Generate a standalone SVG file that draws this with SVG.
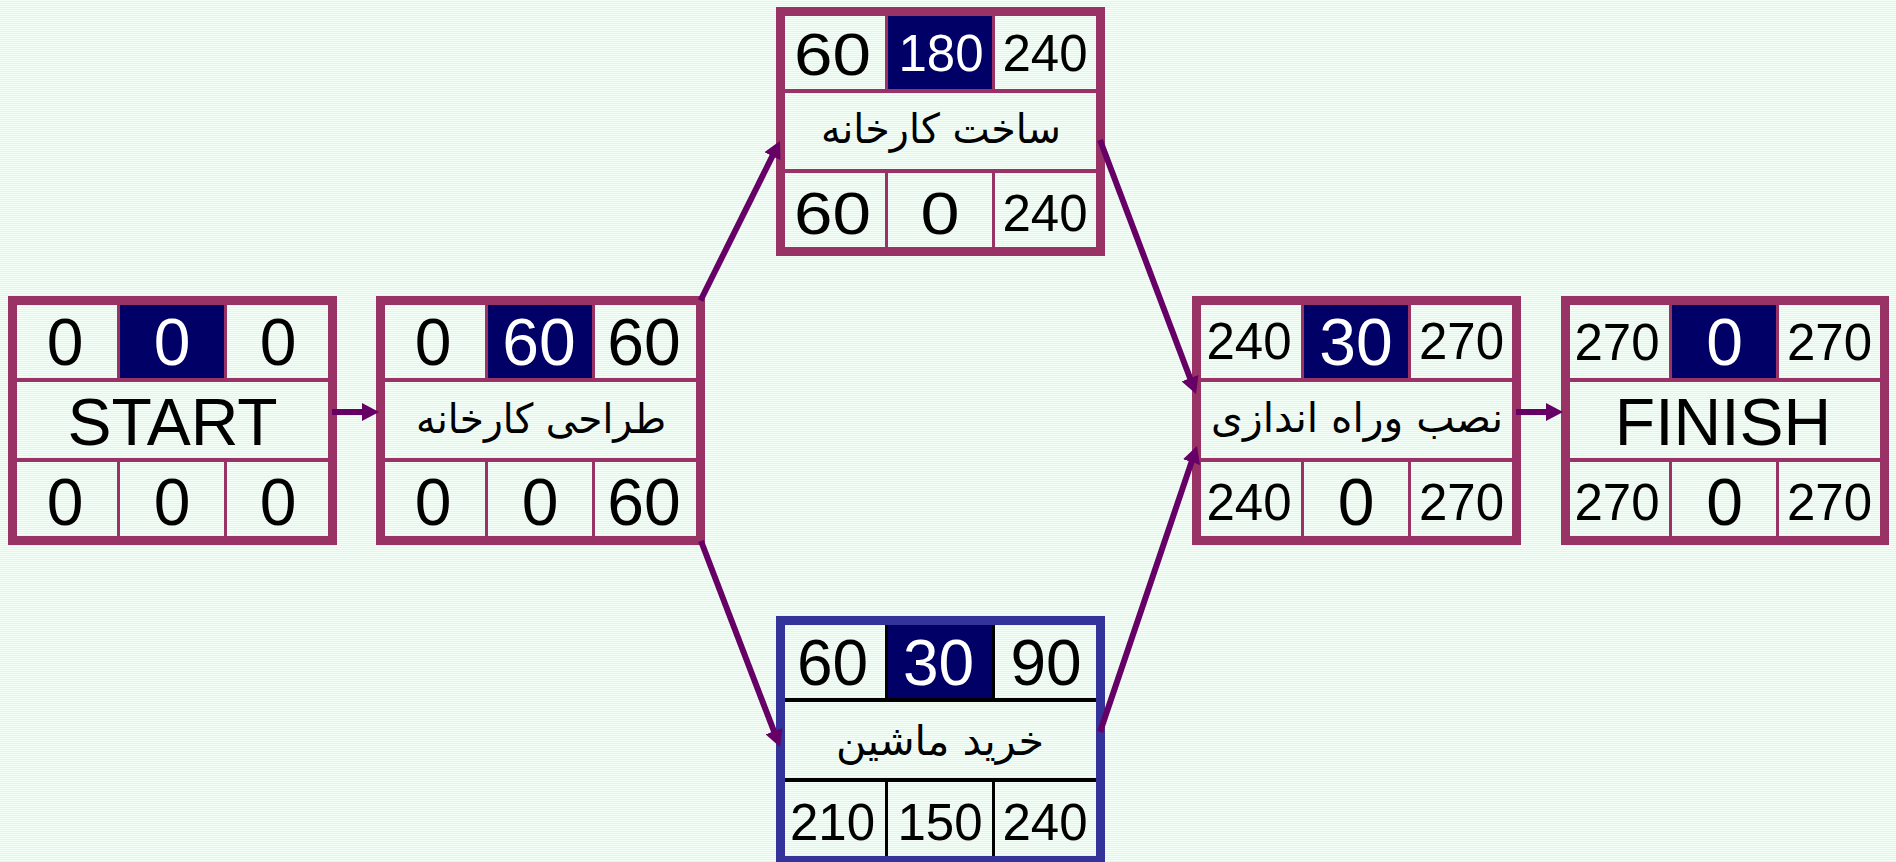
<svg xmlns="http://www.w3.org/2000/svg" width="1896" height="862" viewBox="0 0 1896 862">
<defs>
<pattern id="bg" width="8" height="2" patternUnits="userSpaceOnUse">
<rect width="8" height="2" fill="#f3fff7"/>
<rect y="1" width="8" height="1" fill="#d9fbe3"/>
</pattern>
<marker id="ah" markerUnits="userSpaceOnUse" markerWidth="17" markerHeight="18" refX="5" refY="9" orient="auto" viewBox="0 0 17 18">
<path d="M0,0 L17,9 L0,18 z" fill="#660066"/>
</marker>
<style>
.frame{fill:none;stroke:#993366;stroke-width:9}
.frame.blue{stroke:#333399}
.ln{fill:#993366}
.ln.k{fill:#000000}
.dark{fill:#000066}
.t{font-family:"Liberation Sans",Arial,sans-serif;text-anchor:middle;fill:#000}
.w{fill:#fff}
.f66{font-size:66px}
.f64{font-size:64px}
.f60{font-size:60px}
.f51{font-size:51px}
.fa{font-family:"DejaVu Sans",sans-serif;font-size:41px;text-anchor:middle;fill:#000}
.arr{stroke:#660066;stroke-width:6;fill:none;marker-end:url(#ah)}
</style>
</defs>
<rect width="1896" height="862" fill="url(#bg)"/>

<g id="node-start" transform="translate(8,296)">
<rect class="dark" x="112" y="9" width="105" height="73"/>
<rect class="frame" x="4.5" y="4.5" width="320" height="240"/>
<rect class="ln" x="9" y="82" width="311" height="4"/>
<rect class="ln" x="9" y="162" width="311" height="4"/>
<rect class="ln" x="109" y="9" width="3" height="73"/>
<rect class="ln" x="216" y="9" width="3" height="73"/>
<rect class="ln" x="109" y="166" width="3" height="74"/>
<rect class="ln" x="216" y="166" width="3" height="74"/>
<text class="t f66" x="57" y="69">0</text>
<text class="t f66 w" x="164" y="69">0</text>
<text class="t f66" x="270" y="69">0</text>
<text class="t f66" x="164.5" y="149">START</text>
<text class="t f66" x="57" y="229">0</text>
<text class="t f66" x="164" y="229">0</text>
<text class="t f66" x="270" y="229">0</text>
</g>

<g id="node-design" transform="translate(376,296)">
<rect class="dark" x="112" y="9" width="105" height="73"/>
<rect class="frame" x="4.5" y="4.5" width="320" height="240"/>
<rect class="ln" x="9" y="82" width="311" height="4"/>
<rect class="ln" x="9" y="162" width="311" height="4"/>
<rect class="ln" x="109" y="9" width="3" height="73"/>
<rect class="ln" x="216" y="9" width="3" height="73"/>
<rect class="ln" x="109" y="166" width="3" height="74"/>
<rect class="ln" x="216" y="166" width="3" height="74"/>
<text class="t f66" x="57" y="69">0</text>
<text class="t f66 w" x="163" y="69">60</text>
<text class="t f66" x="268" y="69">60</text>
<text class="fa" x="165" y="137" textLength="250" lengthAdjust="spacingAndGlyphs">طراحی کارخانه</text>
<text class="t f66" x="57" y="229">0</text>
<text class="t f66" x="164" y="229">0</text>
<text class="t f66" x="268" y="229">60</text>
</g>

<g id="node-build" transform="translate(776,7)">
<rect class="dark" x="112" y="9" width="105" height="73"/>
<rect class="frame" x="4.5" y="4.5" width="320" height="240"/>
<rect class="ln" x="9" y="82" width="311" height="4"/>
<rect class="ln" x="9" y="162" width="311" height="4"/>
<rect class="ln" x="109" y="9" width="3" height="73"/>
<rect class="ln" x="216" y="9" width="3" height="73"/>
<rect class="ln" x="109" y="166" width="3" height="74"/>
<rect class="ln" x="216" y="166" width="3" height="74"/>
<text class="t f60" x="56.5" y="68" textLength="77" lengthAdjust="spacingAndGlyphs">60</text>
<text class="t f51 w" x="165" y="64">180</text>
<text class="t f51" x="269" y="64">240</text>
<text class="fa" x="165" y="136" textLength="240" lengthAdjust="spacingAndGlyphs">ساخت کارخانه</text>
<text class="t f60" x="56.5" y="227" textLength="77" lengthAdjust="spacingAndGlyphs">60</text>
<text class="t f60" x="164" y="227" textLength="39" lengthAdjust="spacingAndGlyphs">0</text>
<text class="t f51" x="269" y="224">240</text>
</g>

<g id="node-buy" transform="translate(776,616)">
<rect class="dark" x="112" y="9" width="105" height="73"/>
<rect class="frame blue" x="4.5" y="4.5" width="320" height="240"/>
<rect class="ln k" x="9" y="82" width="311" height="4"/>
<rect class="ln k" x="9" y="162" width="311" height="4"/>
<rect class="ln k" x="109" y="9" width="3" height="73"/>
<rect class="ln k" x="216" y="9" width="3" height="73"/>
<rect class="ln k" x="109" y="166" width="3" height="74"/>
<rect class="ln k" x="216" y="166" width="3" height="74"/>
<text class="t f64" x="56.5" y="69">60</text>
<text class="t f64 w" x="162.5" y="69">30</text>
<text class="t f64" x="270" y="69">90</text>
<text class="fa" x="164" y="139" textLength="208" lengthAdjust="spacingAndGlyphs">خرید ماشین</text>
<text class="t f51" x="56.5" y="224">210</text>
<text class="t f51" x="164" y="224">150</text>
<text class="t f51" x="269" y="224">240</text>
</g>

<g id="node-install" transform="translate(1192,296)">
<rect class="dark" x="112" y="9" width="105" height="73"/>
<rect class="frame" x="4.5" y="4.5" width="320" height="240"/>
<rect class="ln" x="9" y="82" width="311" height="4"/>
<rect class="ln" x="9" y="162" width="311" height="4"/>
<rect class="ln" x="109" y="9" width="3" height="73"/>
<rect class="ln" x="216" y="9" width="3" height="73"/>
<rect class="ln" x="109" y="166" width="3" height="74"/>
<rect class="ln" x="216" y="166" width="3" height="74"/>
<text class="t f51" x="57" y="63">240</text>
<text class="t f66 w" x="164" y="69">30</text>
<text class="t f51" x="269.5" y="63">270</text>
<text class="fa" x="165" y="136" textLength="292" lengthAdjust="spacingAndGlyphs">نصب وراه اندازی</text>
<text class="t f51" x="57" y="224">240</text>
<text class="t f66" x="164" y="229">0</text>
<text class="t f51" x="269.5" y="224">270</text>
</g>

<g id="node-finish" transform="translate(1561,296)">
<rect class="dark" x="111" y="9" width="105" height="73"/>
<rect class="frame" x="4.5" y="4.5" width="319" height="240"/>
<rect class="ln" x="9" y="82" width="310" height="4"/>
<rect class="ln" x="9" y="162" width="310" height="4"/>
<rect class="ln" x="108" y="9" width="3" height="73"/>
<rect class="ln" x="215" y="9" width="3" height="73"/>
<rect class="ln" x="108" y="166" width="3" height="74"/>
<rect class="ln" x="215" y="166" width="3" height="74"/>
<text class="t f51" x="56" y="64">270</text>
<text class="t f66 w" x="163.5" y="69">0</text>
<text class="t f51" x="268.5" y="64">270</text>
<text class="t f66" x="162" y="149">FINISH</text>
<text class="t f51" x="56" y="224">270</text>
<text class="t f66" x="163.5" y="229">0</text>
<text class="t f51" x="268.5" y="224">270</text>
</g>

<g id="connectors">
<line class="arr" x1="332" y1="412" x2="367" y2="412"/>
<line class="arr" x1="700.5" y1="300.5" x2="774.6" y2="151.7"/>
<line class="arr" x1="701" y1="541" x2="775.7" y2="735.8"/>
<line class="arr" x1="1100" y1="140" x2="1191.8" y2="382.8"/>
<line class="arr" x1="1100" y1="732" x2="1193.1" y2="457.4"/>
<line class="arr" x1="1516" y1="412" x2="1551" y2="412"/>
</g>
</svg>
